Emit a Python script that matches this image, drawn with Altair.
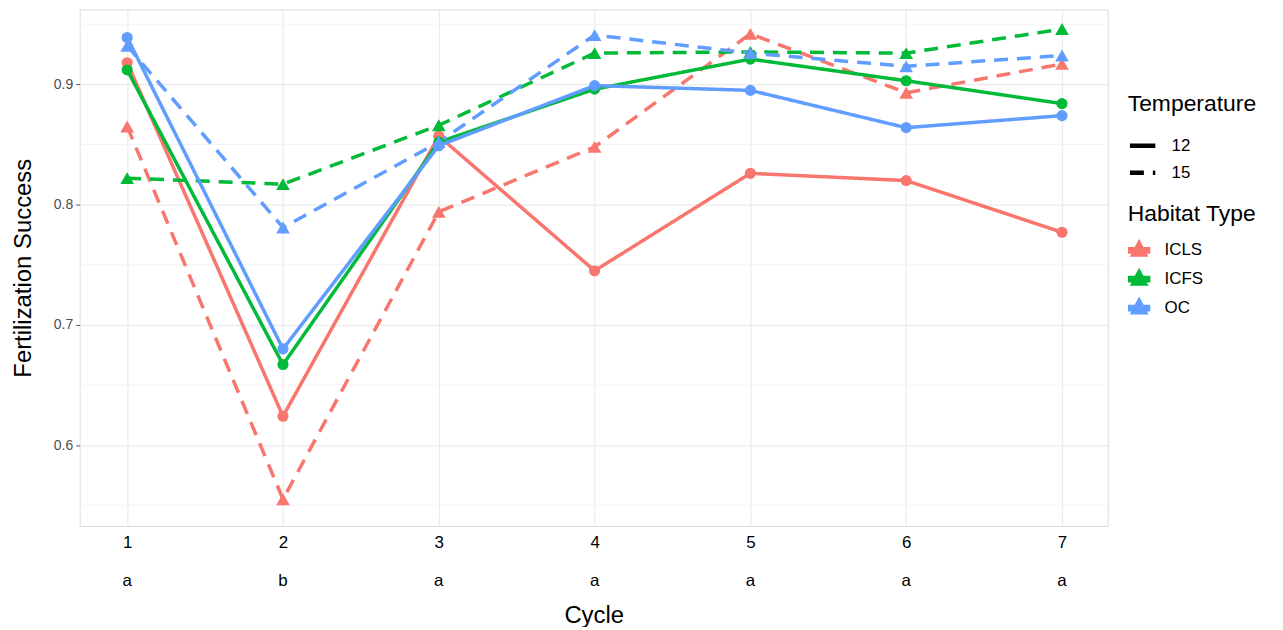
import altair as alt
import pandas as pd

cycles = [1, 2, 3, 4, 5, 6, 7]
sig_letters = ["a", "b", "a", "a", "a", "a", "a"]
habitats = ["ICLS", "ICFS", "OC"]
temps = ["12", "15"]

icls_12 = [0.918, 0.624, 0.857, 0.745, 0.826, 0.820, 0.777]
icls_15 = [0.865, 0.555, 0.794, 0.848, 0.942, 0.893, 0.917]
icfs_12 = [0.912, 0.667, 0.852, 0.896, 0.921, 0.903, 0.884]
icfs_15 = [0.822, 0.817, 0.866, 0.926, 0.927, 0.926, 0.946]
oc_12 = [0.939, 0.680, 0.849, 0.899, 0.895, 0.864, 0.874]
oc_15 = [0.932, 0.781, 0.852, 0.941, 0.926, 0.915, 0.924]

y_ticks = [0.6, 0.7, 0.8, 0.9]
minor_grid = [0.55, 0.65, 0.75, 0.85, 0.95]

series = {
    ("ICLS", "12"): icls_12, ("ICLS", "15"): icls_15,
    ("ICFS", "12"): icfs_12, ("ICFS", "15"): icfs_15,
    ("OC", "12"): oc_12, ("OC", "15"): oc_15,
}
rows = []
for (hab, tmp), vals in series.items():
    for c, v in zip(cycles, vals):
        rows.append({"Cycle": c, "Success": v, "Habitat": hab, "Temperature": tmp})
df = pd.DataFrame(rows)
letters_df = pd.DataFrame({"Cycle": cycles, "Letter": sig_letters})
minor_df = pd.DataFrame({"Success": minor_grid})

FONT = "Liberation Sans"
W, H = 1033, 519

x_scale = alt.Scale(domain=[0.695, 7.294], nice=False, zero=False)
y_scale = alt.Scale(domain=[0.5327, 0.9623], nice=False, zero=False)

x_axis = alt.Axis(
    values=cycles, format="d", title="Cycle", grid=True, gridColor="#EBEBEB",
    gridWidth=1.2, domain=False, ticks=False, labelColor="black",
    labelFontSize=17, labelPadding=9, titleFontSize=24, titleFontWeight="normal",
    titleColor="black", titlePadding=53, labelFont=FONT, titleFont=FONT)
y_axis = alt.Axis(
    values=y_ticks, format=".1f", title="Fertilization Success", grid=True,
    gridColor="#EBEBEB", gridWidth=1.2, domain=False, ticks=True, tickColor="#555555",
    tickSize=4, labelColor="#4D4D4D", labelFontSize=14, labelPadding=3,
    titleFontSize=24, titleFontWeight="normal", titleColor="black",
    titlePadding=18, labelFont=FONT, titleFont=FONT)

x_enc = alt.X("Cycle:Q", scale=x_scale, axis=x_axis)
y_enc = alt.Y("Success:Q", scale=y_scale, axis=y_axis)

legend_sym = ("M0,-0.9 L0.38,-0.2 L1,-0.2 L1,0.3 L0.62,0.3 L0.78,0.6 "
              "L-0.78,0.6 L-0.62,0.3 L-1,0.3 L-1,-0.2 L-0.38,-0.2 Z")

color_legend = alt.Legend(
    title="Habitat Type", orient="none", legendX=1053, legendY=195,
    symbolType=legend_sym, symbolSize=440, symbolOpacity=1,
    labelFontSize=17, titleFontSize=23, titleFontWeight="normal",
    titleColor="black", labelColor="black", titleFont=FONT, labelFont=FONT,
    labelOffset=14, rowPadding=7, titlePadding=12)
color_enc = alt.Color(
    "Habitat:N",
    scale=alt.Scale(domain=habitats, range=["#F8766D", "#00BA38", "#619CFF"]),
    legend=color_legend)

dash_enc = alt.StrokeDash(
    "Temperature:N", scale=alt.Scale(domain=temps, range=[[1, 0], [14, 9]]),
    legend=alt.Legend(
        title="Temperature", orient="none", legendX=1053, legendY=84,
        symbolStrokeColor="black", symbolStrokeWidth=4.5, symbolSize=650,
        labelFontSize=17, titleFontSize=23, titleFontWeight="normal",
        titleColor="black", labelColor="black", titleFont=FONT, labelFont=FONT,
        labelOffset=14, rowPadding=3, titlePadding=15))

minor = alt.Chart(minor_df).mark_rule(color="#F4F4F4", strokeWidth=1).encode(
    y=y_enc)

legend_layer = alt.Chart(df).mark_point(filled=True, opacity=0, size=1).encode(
    x=x_enc, y=y_enc, color=color_enc)

lines = alt.Chart(df).mark_line(strokeWidth=3.5).encode(
    x=x_enc, y=y_enc, color=color_enc, strokeDash=dash_enc)

circles = alt.Chart(df).transform_filter(
    alt.datum.Temperature == temps[0]
).mark_point(filled=True, opacity=1, size=125, shape="circle").encode(
    x=x_enc, y=y_enc, color=color_enc)

triangles = alt.Chart(df).transform_filter(
    alt.datum.Temperature == temps[1]
).mark_point(filled=True, opacity=1, size=190, shape="triangle-up").encode(
    x=x_enc, y=y_enc, color=color_enc)

letters = alt.Chart(letters_df).mark_text(
    fontSize=17, font=FONT, color="black", baseline="middle", clip=False
).encode(
    x=x_enc,
    y=alt.value(H + 55),
    text="Letter:N",
)

chart = alt.layer(minor, legend_layer, lines, circles, triangles, letters).properties(
    width=W, height=H,
    autosize=alt.AutoSizeParams(type="none"),
    padding={"left": 72, "top": 0, "right": 168, "bottom": 100},
).configure_view(stroke="#8A8A8A", strokeWidth=1.2).configure(
    font=FONT, background="white"
)

chart.save("out.html", embed_options={"renderer": "svg", "actions": False})
